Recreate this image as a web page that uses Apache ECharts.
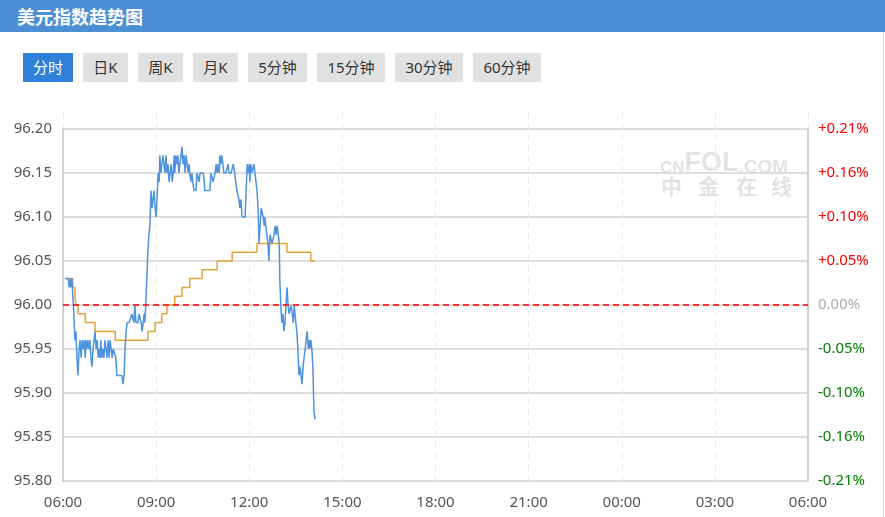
<!DOCTYPE html>
<html><head><meta charset="utf-8">
<script src="https://cdn.jsdelivr.net/npm/echarts@6/dist/echarts.min.js"></script>
<style>
html,body{margin:0;padding:0;width:885px;height:517px;overflow:hidden;background:#fff;font-family:"Noto Sans","Noto Sans CJK SC",sans-serif;}
#hdr{position:absolute;left:0;top:0;width:885px;height:32px;background:#4d8fd4;color:#fff;font-weight:bold;font-size:18px;line-height:32px;padding-left:17px;box-sizing:border-box;font-family:"Noto Sans CJK SC",sans-serif;}
.btn{position:absolute;top:53px;height:29px;line-height:29px;font-size:15px;text-align:center;background:#e1e1e1;color:#333;font-family:"Noto Sans","Noto Sans CJK SC",sans-serif;}
.btn.on{background:#2f80d8;color:#fff;}
#frame{position:absolute;left:883px;top:32px;width:1px;height:485px;background:#e2e2e2;}
#chart{position:absolute;left:0;top:95px;width:885px;height:422px;}
</style>
</head><body>
<div id="hdr">美元指数趋势图</div>
<div class="btn on" style="left:23px;width:50px;">分时</div>
<div class="btn" style="left:83px;width:45px;">日K</div>
<div class="btn" style="left:138px;width:45px;">周K</div>
<div class="btn" style="left:193px;width:45px;">月K</div>
<div class="btn" style="left:248px;width:59px;">5分钟</div>
<div class="btn" style="left:317px;width:68px;">15分钟</div>
<div class="btn" style="left:395px;width:68px;">30分钟</div>
<div class="btn" style="left:473px;width:68px;">60分钟</div>
<div id="frame"></div>
<div id="chart"></div>
<script>
// ---- data ----
const preClose = 96.00;
const xTickLabels = ['06:00','09:00','12:00','15:00','18:00','21:00','00:00','03:00','06:00'];
const priceTimes = [
'06:04','06:10','06:12','06:14','06:15','06:17','06:19','06:21','06:23','06:25','06:27','06:29','06:31','06:33','06:35','06:37','06:39','06:41','06:43','06:44',
'06:46','06:48','06:50','06:52','06:54','06:56','06:58','07:00','07:02','07:04','07:06','07:08','07:10','07:12','07:13','07:15','07:17','07:19','07:21','07:23',
'07:25','07:27','07:29','07:31','07:33','07:35','07:37','07:39','07:42','07:44','07:50','07:54','07:56','07:58','08:00','08:02','08:04','08:08','08:11','08:13',
'08:17','08:19','08:21','08:25','08:27','08:31','08:33','08:35','08:37','08:38','08:40','08:42','08:44','08:46','08:48','08:50','08:52','08:54','08:56','08:58',
'09:00','09:02','09:04','09:06','09:07','09:09','09:11','09:13','09:15','09:17','09:19','09:21','09:23','09:25','09:27','09:29','09:31','09:33','09:35','09:36',
'09:38','09:40','09:42','09:44','09:46','09:48','09:50','09:52','09:54','09:56','09:58','10:00','10:02','10:04','10:05','10:07','10:09','10:11','10:13','10:17',
'10:19','10:23','10:25','10:31','10:33','10:34','10:44','10:46','10:50','10:54','10:56','10:58','11:00','11:02','11:03','11:05','11:07','11:09','11:11','11:15',
'11:19','11:21','11:25','11:29','11:32','11:34','11:36','11:38','11:40','11:42','11:44','11:46','11:48','11:52','11:54','11:56','11:58','12:00','12:01','12:03',
'12:05','12:07','12:09','12:11','12:13','12:15','12:17','12:19','12:21','12:23','12:25','12:27','12:29','12:30','12:32','12:34','12:36','12:38','12:40','12:44',
'12:48','12:50','12:52','12:54','12:56','12:58','12:59','13:01','13:03','13:05','13:07','13:09','13:11','13:13','13:15','13:17','13:19','13:21','13:23','13:25',
'13:27','13:28','13:30','13:32','13:34','13:36','13:38','13:40','13:42','13:44','13:46','13:48','13:50','13:52','13:54','13:56','13:57','13:59','14:01','14:03',
'14:05','14:07'
];
const priceValues = [
96.03,96.03,96.02,96.03,96.02,96.03,96.03,95.99,95.96,95.97,95.94,95.92,95.95,95.96,95.94,95.96,95.95,95.96,95.94,95.96,
95.95,95.96,95.95,95.96,95.94,95.93,95.95,95.96,95.97,95.95,95.96,95.94,95.95,95.94,95.96,95.94,95.95,95.94,95.96,95.95,
95.94,95.96,95.94,95.96,95.95,95.94,95.95,95.95,95.94,95.92,95.92,95.92,95.91,95.92,95.95,95.97,95.98,95.98,95.98,95.99,
95.98,96.00,95.98,95.98,95.99,95.98,95.97,95.98,95.99,95.98,96.00,96.03,96.06,96.08,96.09,96.13,96.11,96.12,96.13,96.11,
96.10,96.10,96.15,96.14,96.17,96.15,96.16,96.17,96.17,96.15,96.17,96.15,96.16,96.14,96.15,96.16,96.14,96.15,96.17,96.15,
96.17,96.16,96.17,96.15,96.16,96.17,96.18,96.16,96.17,96.15,96.17,96.16,96.15,96.16,96.15,96.14,96.15,96.14,96.13,96.13,
96.15,96.14,96.15,96.15,96.14,96.13,96.13,96.15,96.14,96.15,96.16,96.15,96.16,96.15,96.17,96.16,96.17,96.16,96.15,96.15,
96.16,96.15,96.15,96.16,96.15,96.14,96.13,96.13,96.12,96.11,96.12,96.10,96.10,96.10,96.13,96.16,96.15,96.16,96.14,96.16,
96.15,96.15,96.16,96.15,96.14,96.13,96.11,96.07,96.09,96.11,96.11,96.10,96.09,96.10,96.09,96.09,96.07,96.05,96.08,96.07,
96.08,96.09,96.08,96.09,96.08,96.07,96.03,96.00,95.98,95.99,95.97,95.98,96.00,96.02,96.00,95.99,95.99,96.00,95.99,95.98,
96.00,96.00,95.98,95.97,95.95,95.92,95.93,95.92,95.91,95.93,95.94,95.95,95.96,95.97,95.95,95.96,95.95,95.96,95.95,95.93,
95.88,95.87
];
const avgTimes = ['06:04','06:19','06:23','06:25','06:29','06:43','07:02','07:41','08:44','08:58','09:11','09:21','09:36','09:50','10:05','10:29','10:58','11:27','12:15','13:13','13:59','14:07'];
const avgValues = [96.03,96.02,96.01,96.00,95.99,95.98,95.97,95.96,95.97,95.98,95.99,96.00,96.01,96.02,96.03,96.04,96.05,96.06,96.07,96.06,96.05,96.05];

function toMin(t){ const p=t.split(':').map(Number); return ((p[0]-6+24)%24)*60+p[1]; }
const priceData = priceTimes.map((t,i)=>[toMin(t), priceValues[i]]);
const avgData = avgTimes.map((t,i)=>[toMin(t), avgValues[i]]);

const chart = echarts.init(document.getElementById('chart'), null, {renderer:'canvas'});
const fontFam = '"Noto Sans","Noto Sans CJK SC",sans-serif';
function pctLabel(v){
  const p = (v - preClose)/preClose*100;
  if (Math.abs(p) < 1e-9) return '{z|0.00%}';
  if (p > 0) return '{r|+' + p.toFixed(2) + '%}';
  return '{g|-' + Math.abs(p).toFixed(2) + '%}';
}
const wm = '#e3e3e3';
chart.setOption({
  animation:false,
  grid:[
    {left:63,right:77,top:34,bottom:36},
    {left:63,right:77,top:17,bottom:36}
  ],
  graphic:[
    {type:'text', left:660, top:55, z:-10, silent:true,
     style:{text:'{a|CN}{b|FOL}{c|.COM}', rich:{
       a:{fontSize:17,fontWeight:'bold',fill:wm,fontFamily:'"Liberation Sans",sans-serif',verticalAlign:'bottom'},
       b:{fontSize:27,fontWeight:'bold',fill:wm,fontFamily:'"Liberation Sans",sans-serif',verticalAlign:'bottom'},
       c:{fontSize:19,fontWeight:'bold',fill:wm,fontFamily:'"Liberation Sans",sans-serif',verticalAlign:'bottom'}}}},
    {type:'text', left:661, top:81, z:-10, silent:true, style:{text:'中',fontSize:21,fontWeight:'bold',fill:wm,fontFamily:'"Noto Sans CJK SC"'}},
    {type:'text', left:698, top:81, z:-10, silent:true, style:{text:'金',fontSize:21,fontWeight:'bold',fill:wm,fontFamily:'"Noto Sans CJK SC"'}},
    {type:'text', left:736, top:81, z:-10, silent:true, style:{text:'在',fontSize:21,fontWeight:'bold',fill:wm,fontFamily:'"Noto Sans CJK SC"'}},
    {type:'text', left:771, top:81, z:-10, silent:true, style:{text:'线',fontSize:21,fontWeight:'bold',fill:wm,fontFamily:'"Noto Sans CJK SC"'}}
  ],
  xAxis:[
    {gridIndex:0,type:'value',min:0,max:1440,interval:180,
     axisLine:{show:false},axisTick:{show:false},splitLine:{show:false},
     axisLabel:{margin:14,color:'#555',fontSize:15,fontFamily:fontFam,
       formatter:function(v){return xTickLabels[Math.round(v/180)];}}},
    {gridIndex:1,type:'value',min:0,max:1440,interval:180,
     axisLine:{show:false},axisTick:{show:false},axisLabel:{show:false},
     splitLine:{show:true,lineStyle:{color:'#ebebeb',type:[6,5],width:1}}}
  ],
  yAxis:[
    {gridIndex:0,type:'value',position:'left',min:95.8,max:96.2,interval:0.05,
     axisLine:{show:true,lineStyle:{color:'#d0d0d0',width:2}},axisTick:{show:false},
     splitLine:{show:true,lineStyle:{color:'#dedede',width:2}},
     axisLabel:{margin:11,color:'#555',fontSize:15,fontFamily:fontFam,formatter:function(v){return v.toFixed(2);}}},
    {gridIndex:0,type:'value',position:'right',min:95.8,max:96.2,interval:0.05,
     axisLine:{show:true,lineStyle:{color:'#d0d0d0',width:2}},axisTick:{show:false},
     splitLine:{show:false},
     axisLabel:{margin:10,fontSize:15,fontFamily:fontFam,formatter:pctLabel,
       rich:{r:{color:'#ff0000',fontSize:15,fontFamily:fontFam},g:{color:'#008000',fontSize:15,fontFamily:fontFam},z:{color:'#aaaaaa',fontSize:15,fontFamily:fontFam}}}},
    {gridIndex:1,type:'value',show:false,min:0,max:1}
  ],
  series:[
    {type:'line',name:'价格',xAxisIndex:0,yAxisIndex:0,data:priceData,showSymbol:false,symbol:'none',
     lineStyle:{color:'#4f92e0',width:1.5},z:3,
     markLine:{silent:true,symbol:'none',label:{show:false},
       lineStyle:{color:'#ff0000',type:[6,4],width:1.5},data:[{yAxis:preClose}]}},
    {type:'line',name:'均价',xAxisIndex:0,yAxisIndex:0,data:avgData,step:'end',showSymbol:false,symbol:'none',
     lineStyle:{color:'#e3a53a',width:1.5},z:2}
  ]
});
</script>
</body></html>
